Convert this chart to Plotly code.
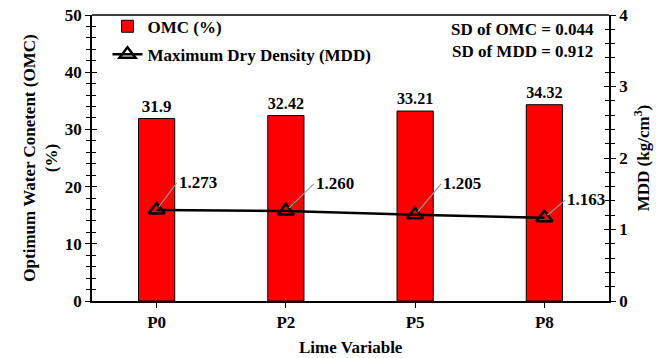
import plotly.graph_objects as go

categories = ["P0", "P2", "P5", "P8"]
omc = [31.9, 32.42, 33.21, 34.32]
mdd = [1.273, 1.260, 1.205, 1.163]
mdd_labels = ["1.273", "1.260", "1.205", "1.163"]
label_offsets = [(20, -27), (28, -27), (26, -31), (21, -18)]

FONT = "Liberation Serif"
FS = 17
fig = go.Figure()

fig.add_trace(go.Bar(
    x=categories, y=omc, name="<b>OMC (%)</b>",
    marker=dict(color="#FF0000", line=dict(color="black", width=1)),
    width=0.28, text=[f"<b>{v}</b>" for v in omc], textposition="outside",
    textfont=dict(family=FONT, size=FS, color="black"), cliponaxis=False,
    legendgroup="a",
))
fig.add_trace(go.Scatter(
    x=categories, y=mdd, yaxis="y2", mode="lines+markers",
    name="<b>Maximum Dry Density (MDD)</b>",
    line=dict(color="black", width=2.5),
    marker=dict(symbol="triangle-up-open", size=14, color="black", line=dict(width=2.5)),
    legendgroup="b",
))
fig.add_trace(go.Scatter(x=categories, y=omc, yaxis="y3", mode="none", showlegend=False, hoverinfo="skip"))
fig.add_trace(go.Scatter(x=categories, y=mdd, yaxis="y4", mode="none", showlegend=False, hoverinfo="skip"))

for c, v, lab, (ax, ay) in zip(categories, mdd, mdd_labels, label_offsets):
    fig.add_annotation(x=c, y=v, yref="y2", text=f"<b>{lab}</b>", showarrow=True,
                       arrowhead=0, arrowcolor="#999999", arrowwidth=1.2,
                       ax=ax, ay=ay, xanchor="left", standoff=4,
                       font=dict(family=FONT, size=FS, color="black"))

fig.add_annotation(x=0.975, y=0.99, xref="paper", yref="paper", xanchor="right", yanchor="top",
                   text="<b>SD of OMC = 0.044<br>SD of MDD = 0.912</b>", showarrow=False,
                   align="right", font=dict(family=FONT, size=FS, color="black"))

fig.add_annotation(x=0.5, y=0, xref="paper", yref="paper", yanchor="middle", yshift=-46,
                   text="<b>Lime Variable</b>", showarrow=False,
                   font=dict(family=FONT, size=FS, color="black"))

tickfont = dict(family=FONT, size=FS, color="black")
common_y = dict(showgrid=False, zeroline=False, showline=True, linecolor="black", linewidth=1.5)

fig.update_layout(
    width=667, height=358,
    margin=dict(l=92, r=58, t=15, b=57, autoexpand=False),
    plot_bgcolor="white", paper_bgcolor="white",
    font=dict(family=FONT, color="black"),
    xaxis=dict(showline=True, linecolor="black", linewidth=1.5, mirror=False,
               ticks="outside", ticklen=5, tickcolor="black", tickfont=tickfont,
               tickprefix="<b>", ticksuffix="</b>", range=[-0.5, 3.5], automargin=False),
    yaxis=dict(range=[0, 50], dtick=10, ticks="outside", ticklen=5, tickcolor="black",
               minor=dict(dtick=2, ticks="outside", ticklen=4, tickcolor="black"),
               tickfont=tickfont, tickprefix="<b>", ticksuffix="</b>",
               title=dict(text="<b>Optimum Water Conetent (OMC)<br>(%)</b>",
                          font=dict(family=FONT, size=FS), standoff=3),
               **common_y),
    yaxis3=dict(range=[0, 50], dtick=10, ticks="inside", ticklen=5, tickcolor="black",
                minor=dict(dtick=2, ticks="inside", ticklen=4, tickcolor="black"),
                showticklabels=False, overlaying="y", side="left", **common_y),
    yaxis2=dict(range=[0, 4], dtick=1, ticks="outside", ticklen=5, tickcolor="black",
                minor=dict(dtick=0.2, ticks="outside", ticklen=4, tickcolor="black"),
                tickfont=tickfont, tickprefix="<b>", ticksuffix="</b>",
                overlaying="y", side="right",
                title=dict(text="<b>MDD (kg/cm<sup>3</sup>)</b>", font=dict(family=FONT, size=FS), standoff=10),
                **common_y),
    yaxis4=dict(range=[0, 4], dtick=1, ticks="inside", ticklen=5, tickcolor="black",
                minor=dict(dtick=0.2, ticks="inside", ticklen=4, tickcolor="black"),
                showticklabels=False, overlaying="y", side="right", **common_y),
    legend=dict(x=0.03, y=1.022, xanchor="left", yanchor="top", bgcolor="rgba(0,0,0,0)",
                font=dict(family=FONT, size=FS, color="black"), tracegroupgap=3),
    showlegend=True,
)
fig.add_shape(type="line", xref="paper", yref="paper", x0=0, x1=1, y0=1, y1=1,
              line=dict(color="black", width=1.5))

fig.write_html("out.html")
